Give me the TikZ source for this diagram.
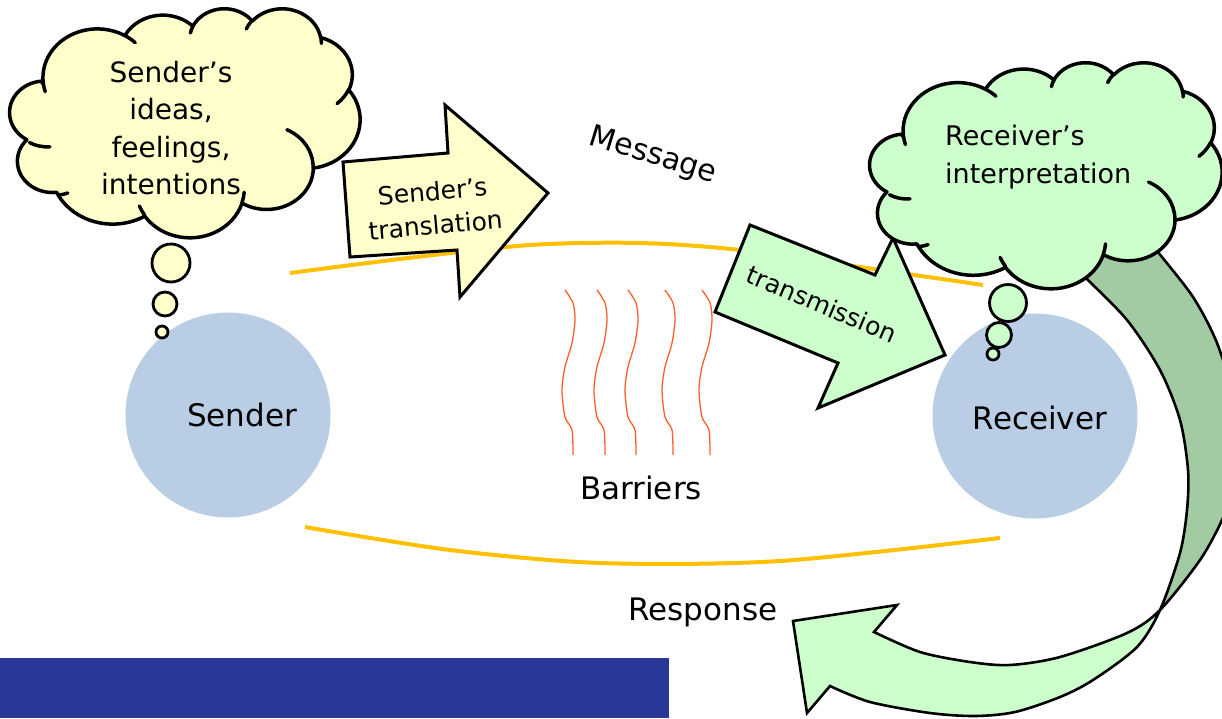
\documentclass[tikz,border=0pt]{standalone}
\usepackage{fontspec}
\setmainfont{DejaVu Sans}
\definecolor{yelfill}{RGB}{255,255,204}
\definecolor{grnfill}{RGB}{204,255,204}
\definecolor{dgrn}{RGB}{163,203,163}
\definecolor{pblue}{RGB}{185,205,229}
\definecolor{gold}{RGB}{255,192,0}
\definecolor{barr}{RGB}{255,95,45}
\definecolor{navy}{RGB}{41,56,150}
% --- PowerPoint-like cloud outline, built from elliptical arcs (grid 432 x 432)
\newcommand\cloudpath{}
\newcommand\cloudinner{}
\newcommand\addarc[5]{%
  \pgfmathsetmacro\cts{atan2((#2)*sin(#4),(#3)*cos(#4))}%
  \pgfmathsetmacro\cte{atan2((#2)*sin((#4)+(#5)),(#3)*cos((#4)+(#5)))}%
  \pgfmathsetmacro\cdt{\cte-\cts}%
  \pgfmathsetmacro\cdt{\cdt<0 ? \cdt+360 : \cdt}%
  \xdef#1{#1 arc[start angle=\cts, delta angle=\cdt, x radius=#2, y radius=#3]}}
\newcommand\addinner[6]{%
  \xdef\cloudinner{\cloudinner (#1,#2)}%
  \addarc\cloudinner{#3}{#4}{#5}{#6}}
\addarc\cloudpath{67.53}{91.90}{-190.4875}{123.7805}
\addarc\cloudpath{53.33}{72.67}{-144.1024}{89.9452}
\addarc\cloudpath{43.65}{59.45}{-145.8079}{99.7230}
\addarc\cloudpath{48.57}{65.95}{-130.9861}{117.2417}
\addarc\cloudpath{53.33}{72.73}{-78.7089}{109.0269}
\addarc\cloudpath{67.75}{92.20}{-46.2673}{130.2690}
\addarc\cloudpath{57.85}{78.67}{0.6250}{114.0333}
\addarc\cloudpath{67.52}{92.15}{22.4516}{115.1726}
\addarc\cloudpath{77.20}{105.43}{66.2426}{80.6603}
\addarc\cloudpath{43.60}{59.18}{-274.9421}{146.7356}
\addarc\cloudpath{43.45}{59.45}{-246.8285}{152.5189}
\addinner{46.93}{261.77}{43.45}{59.45}{86.7420}{26.4295}
\addinner{69.28}{348.99}{43.60}{59.18}{73.6105}{11.4475}
\addinner{164.78}{390.90}{67.52}{92.15}{137.6242}{14.0811}
\addinner{288.27}{347.51}{67.52}{92.15}{6.4533}{15.9984}
\addinner{341.29}{229.54}{57.85}{78.67}{-70.2924}{70.9174}
\addinner{417.98}{153.54}{53.33}{72.73}{30.3180}{27.7515}
\addinner{383.24}{54.26}{48.57}{65.95}{-13.7443}{14.8589}
\addinner{290.78}{39.52}{48.57}{65.95}{-149.1815}{18.1954}
\addinner{221.41}{47.20}{43.65}{59.45}{-163.4943}{17.6864}
\addinner{140.00}{51.92}{67.53}{91.90}{-66.7070}{12.3194}
\addinner{41.27}{157.89}{67.53}{91.90}{157.6544}{11.8582}
\newcommand\drawcloud[5]{%
  \pgfmathsetmacro\cxu{#3/432}%
  \pgfmathsetmacro\cyu{-#4/432}%
  \begin{scope}[shift={(#1,#2)}, x=\cxu pt, y=\cyu pt]
    \filldraw[cloudline, fill=#5] (39.00,143.70) \cloudpath -- cycle;
    \draw[cloudline] \cloudinner;
  \end{scope}}
\newcommand\bandpath{plot[smooth] coordinates {(1075,265) (1085,277) (1127,320) (1160,370) (1180,420) (1188,470) (1187,510) (1180,553) (1160,610) (1137,647) (1093,680) (1060,697) (1015,712) (975,716) (930,713) (870,702) (830,686)}
  -- (807,713) -- (793,621) -- (897,605) -- (874,632)
  -- plot[smooth] coordinates {(874,632) (920,652) (970,662) (1010,665) (1060,657) (1127,633) (1160,610) (1200,560) (1222,520) (1232,490) (1238,450) (1234,400) (1217,343) (1193,297) (1158,252) (1150,240)} -- cycle}
\tikzset{
  cloudline/.style={draw=black, line width=3.5pt, line join=round, line cap=round},
  msgline/.style={draw=gold, line width=4pt},
  barrier/.style={draw=barr, line width=1.3pt},
  person/.style={circle, fill=pblue, minimum size=205pt, inner sep=0pt},
  bubble/.style={circle, draw=black, line width=2.8pt, inner sep=0pt},
  blockarrow/.style={draw=black, line width=3pt, line join=miter},
  lbl/.style={inner sep=0pt, text=black, font=\fontsize{31}{37}\selectfont},
  cloudtxt/.style={inner sep=0pt, text=black},
  arrtxt/.style={inner sep=0pt, text=black, font=\fontsize{25}{34}\selectfont},
}
\begin{document}
\begin{tikzpicture}[x=1pt,y=-1pt]
\useasboundingbox (0,0) rectangle (1222,718);
\fill[white] (0,0) rectangle (1222,718);

% message channel lines
\draw[msgline] plot[smooth] coordinates {(290,273) (400,259) (530,245) (640,243) (740,250) (880,270) (983,285)};
\draw[msgline] plot[smooth] coordinates {(305,527) (450,550) (600,563) (780,561) (1000,538)};

% barriers
\foreach \bx in {565,597,628,665,702}
  \draw[barrier] plot[smooth] coordinates {(\bx,290) (\bx+8,303) (\bx+10,320) (\bx+7,343) (\bx,367) (\bx-3,390) (\bx,417) (\bx+7,430) (\bx+8,455)};

% people
\node[person] (sender) at (228,415) {};
\node[person] (receiver) at (1035,416) {};

% sender's thought cloud
\drawcloud{12}{8}{348}{229}{yelfill}
\node[bubble, fill=yelfill, minimum size=38pt] (sb1) at (171,263) {};
\node[bubble, fill=yelfill, minimum size=24pt] (sb2) at (165,304) {};
\node[bubble, fill=yelfill, minimum size=12pt] (sb3) at (162,332) {};

% sender's translation arrow
\draw[blockarrow, fill=yelfill] (343,162) -- (448,153) -- (445,105) -- (548,193) -- (460,297) -- (457,250) -- (350,257) -- cycle;

% response arrow (twisted curved band)
\fill[grnfill] \bandpath;
\begin{scope}
  \clip (1000,0) rectangle (1240,610);
  \fill[dgrn] \bandpath;
\end{scope}
\draw[blockarrow, line width=2.6pt] \bandpath;

% transmission arrow
\draw[blockarrow, fill=grnfill] (750,225) -- (875,275) -- (893,238) -- (945,355) -- (818,408) -- (838,363) -- (715,312) -- cycle;

% receiver's thought cloud
\drawcloud{872}{62}{350}{226}{grnfill}
\node[bubble, fill=grnfill, minimum size=37pt] (rb1) at (1008,303) {};
\node[bubble, fill=grnfill, minimum size=25pt] (rb2) at (999,335) {};
\node[bubble, fill=grnfill, minimum size=12pt] (rb3) at (993,354) {};

% texts
\node[cloudtxt, align=center, font=\fontsize{28}{37.5}\selectfont] (sidea) at (171,128) {Sender’s\\ideas,\\feelings,\\intentions};
\node[cloudtxt, align=left, anchor=west, font=\fontsize{27}{38}\selectfont] (rint) at (945,157) {Receiver’s\\interpretation};
\node[arrtxt, align=center, rotate=5] (strans) at (434,208) {Sender’s\\translation};
\node[arrtxt, rotate=-23] (trans) at (822,304) {transmission};
\node[lbl, font=\fontsize{30}{36}\selectfont, rotate=-17] (msg) at (653,156) {Message};
\node[lbl] (senderlbl) at (242,415) {Sender};
\node[lbl] (receiverlbl) at (1040,418) {Receiver};
\node[lbl] (barrierlbl) at (641,488) {Barriers};
\node[lbl] (resplbl) at (703,612) {Response};

% footer bar
\fill[navy] (0,658) rectangle (669,718);
\end{tikzpicture}
\end{document}
